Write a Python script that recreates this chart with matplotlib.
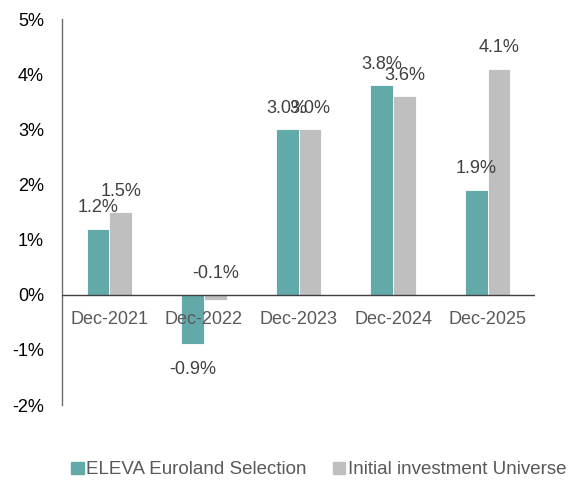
import matplotlib
matplotlib.use("Agg")
import matplotlib.pyplot as plt
import numpy as np
from matplotlib.patches import Patch

categories = ["Dec-2021", "Dec-2022", "Dec-2023", "Dec-2024", "Dec-2025"]
eleva = [1.2, -0.9, 3.0, 3.8, 1.9]
universe = [1.5, -0.1, 3.0, 3.6, 4.1]
series_names = ["ELEVA Euroland Selection", "Initial investment Universe"]
yticks = [-2, -1, 0, 1, 2, 3, 4, 5]

teal = "#62aaa9"
grey = "#bfbfbf"

plt.rcParams['font.family'] = ['Liberation Sans', 'DejaVu Sans']

fig = plt.figure(figsize=(5.76, 4.82), dpi=100)
ax = fig.add_axes([62/576, 1-405/482, (535-62)/576, (405-19)/482])

x = np.arange(len(categories))
w = 0.24
ax.bar(x - w/2, eleva, w, color=teal, edgecolor="white", linewidth=0.6, zorder=2)
ax.bar(x + w/2, universe, w, color=grey, edgecolor="white", linewidth=0.6, zorder=2)

ax.set_xlim(-0.5, len(categories) - 0.5)
ax.set_ylim(-2, 5)
ax.set_yticks(yticks)
ax.set_yticklabels([f"{t}%" for t in yticks], fontsize=13, color="black")
ax.tick_params(axis='y', length=0, pad=13)
ax.set_xticks([])

for s in ["top", "right", "bottom"]:
    ax.spines[s].set_visible(False)
ax.spines["left"].set_color("#6d6d6d")
ax.spines["left"].set_linewidth(1.0)
ax.axhline(0, color="#404040", linewidth=1.0, zorder=3)

def label(xs, vals):
    for xi, v in zip(xs, vals):
        if v < -0.5:
            ax.annotate(f"{v:.1f}%", (xi, v), xytext=(0, -12), textcoords="offset points",
                        ha="center", va="top", fontsize=13, color="#404040")
        else:
            ax.annotate(f"{v:.1f}%", (xi, max(v, 0)), xytext=(0, 9), textcoords="offset points",
                        ha="center", va="bottom", fontsize=13, color="#404040")

label(x - w/2, eleva)
label(x + w/2, universe)

for xi, c in zip(x, categories):
    ax.annotate(c, (xi, 0), xytext=(0, -12), textcoords="offset points",
                ha="center", va="top", fontsize=13, color="#595959")

handles = [Patch(color=teal), Patch(color=grey)]
fig.legend(handles, series_names, loc="center", bbox_to_anchor=(319/576, 1-470/482),
           ncol=2, frameon=False, fontsize=13.5, handlelength=0.65, handleheight=0.65,
           handletextpad=0.15, columnspacing=1.4, labelcolor="#595959")

fig.savefig("out.png", dpi=100)
